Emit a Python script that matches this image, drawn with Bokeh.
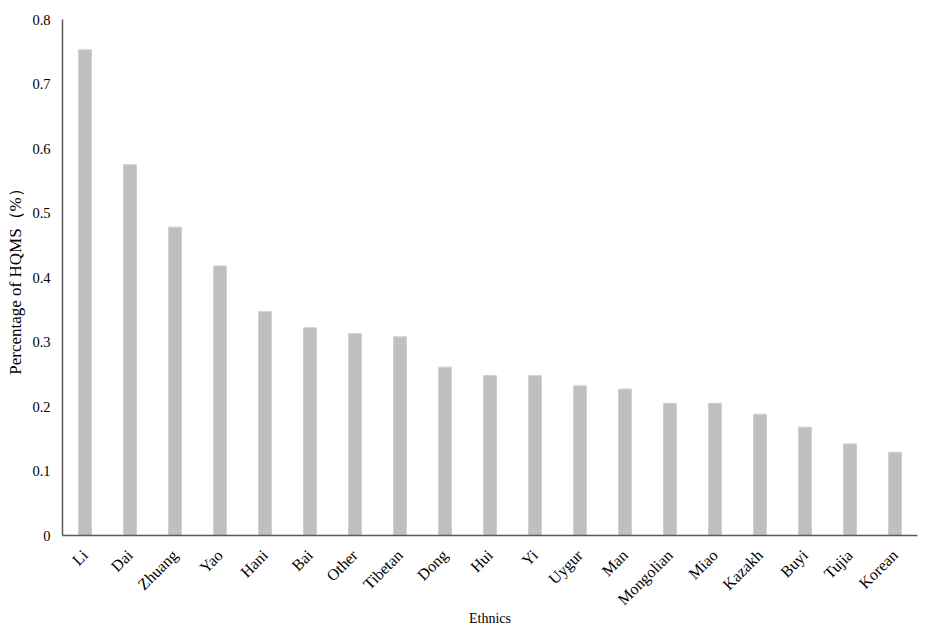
import math
from bokeh.plotting import figure
from bokeh.models import ColumnDataSource, Range1d, FixedTicker
from bokeh.embed import file_html
from bokeh.resources import INLINE

ethnics = ["Li", "Dai", "Zhuang", "Yao", "Hani", "Bai", "Other", "Tibetan", "Dong", "Hui",
           "Yi", "Uygur", "Man", "Mongolian", "Miao", "Kazakh", "Buyi", "Tujia", "Korean"]
percentage = [0.753, 0.575, 0.478, 0.418, 0.347, 0.322, 0.313, 0.308, 0.261, 0.248,
              0.248, 0.232, 0.227, 0.205, 0.205, 0.188, 0.168, 0.142, 0.129]
y_ticks = [0, 0.1, 0.2, 0.3, 0.4, 0.5, 0.6, 0.7, 0.8]

src = ColumnDataSource(dict(x=ethnics, y=percentage))

p = figure(x_range=ethnics, y_range=Range1d(0, 0.8),
           frame_width=855, frame_height=516,
           output_backend="svg", toolbar_location=None,
           min_border_left=62, min_border_right=9, min_border_top=19, min_border_bottom=20)
p.vbar(x="x", top="y", width=0.29, source=src, fill_color="#BFBFBF",
       line_color="#D0D0D0", line_width=1)

serif = "Liberation Serif"
p.outline_line_color = None
p.grid.grid_line_color = None
p.x_range.range_padding = 0

p.yaxis.ticker = FixedTicker(ticks=y_ticks)
p.yaxis.major_label_overrides = {0: "0"}
for ax in (p.xaxis[0], p.yaxis[0]):
    ax.axis_line_color = "#595959"
    ax.axis_line_width = 1.5
    ax.major_tick_line_color = None
    ax.minor_tick_line_color = None
    ax.major_tick_out = 0
    ax.major_tick_in = 0
    ax.minor_tick_out = 0
    ax.minor_tick_in = 0
    ax.major_label_text_font = serif
    ax.major_label_text_color = "#000000"
    ax.axis_label_text_font = serif
    ax.axis_label_text_font_style = "normal"
    ax.axis_label_text_color = "#000000"

p.yaxis.major_label_text_font_size = "14.5px"
p.yaxis.major_label_standoff = 12
p.yaxis.axis_label = "Percentage of HQMS\uff08%\uff09"
p.yaxis.axis_label_text_font_size = "17px"
p.yaxis.axis_label_standoff = 4

p.xaxis.major_label_text_font_size = "16px"
p.xaxis.major_label_orientation = math.pi / 4
p.xaxis.major_label_standoff = 17
p.xaxis.axis_label = "Ethnics"
p.xaxis.axis_label_text_font_size = "14px"
p.xaxis.axis_label_standoff = -6

open("out.html", "w").write(file_html(p, INLINE))
